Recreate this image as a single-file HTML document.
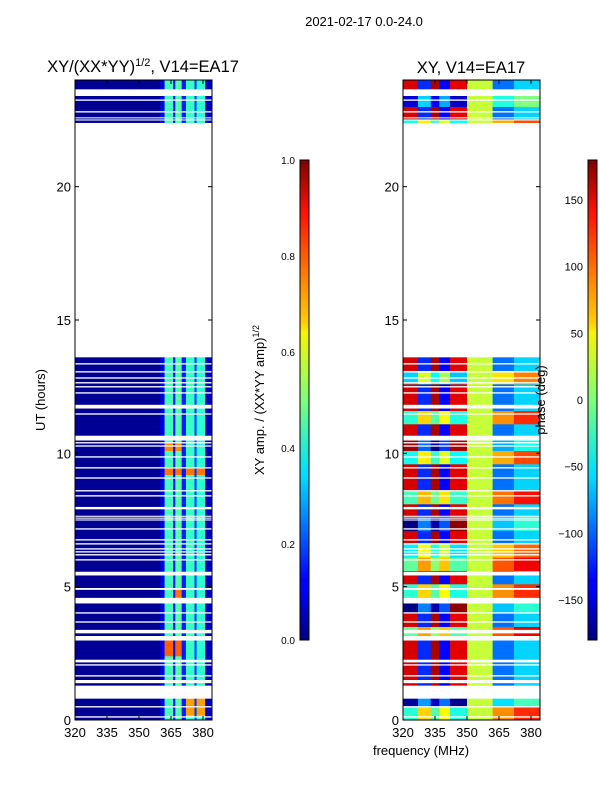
<!DOCTYPE html>
<html><head><meta charset="utf-8">
<style>
body{margin:0;background:#fff;}
svg text{font-family:"Liberation Sans",sans-serif;fill:#000;}
</style></head>
<body>
<svg id="fig" width="600" height="800" viewBox="0 0 600 800" xmlns="http://www.w3.org/2000/svg">
<defs>
<linearGradient id="jet" x1="0" y1="1" x2="0" y2="0">
<stop offset="0" stop-color="#00007f"/><stop offset="0.11" stop-color="#0000ff"/><stop offset="0.125" stop-color="#0000ff"/>
<stop offset="0.34" stop-color="#00dcff"/><stop offset="0.36" stop-color="#00e5f6"/><stop offset="0.5" stop-color="#7dff7a"/>
<stop offset="0.64" stop-color="#f6f500"/><stop offset="0.66" stop-color="#ffd000"/><stop offset="0.89" stop-color="#ff1300"/>
<stop offset="1" stop-color="#7f0000"/></linearGradient>
</defs>
<text x="364" y="26" font-size="13" text-anchor="middle">2021-02-17 0.0-24.0</text>
<text x="143" y="72" font-size="16.5" text-anchor="middle">XY/(XX*YY)<tspan font-size="11" dy="-6">1/2</tspan><tspan dy="6">, V14=EA17</tspan></text>
<text x="471" y="73" font-size="16.5" text-anchor="middle">XY, V14=EA17</text>
<g id="leftMap"></g>
<g id="rightMap"></g>
<g id="axes"></g>
<text transform="translate(45,400) rotate(-90)" font-size="13" text-anchor="middle">UT (hours)</text>
<text x="421" y="755" font-size="13" text-anchor="middle">frequency (MHz)</text>
<rect x="300" y="160" width="9" height="480" fill="url(#jet)" stroke="#000" stroke-width="1"/>
<rect x="588" y="160" width="9" height="480" fill="url(#jet)" stroke="#000" stroke-width="1"/>
<text transform="translate(264,400) rotate(-90)" font-size="13" text-anchor="middle">XY amp. / (XX*YY amp)<tspan font-size="9" dy="-5">1/2</tspan></text>
<text transform="translate(545,400) rotate(-90)" font-size="13" text-anchor="middle">phase (deg)</text>
</svg>
<script>
const hours=[0,5,10,15,20];
const freqTicks=[320,335,350,365,380];
const ampTicks=[0.0,0.2,0.4,0.6,0.8,1.0];
const phaseTicks=[-150,-100,-50,0,50,100,150];
const dataSegStart=[0.0,1.3,22.4];
const dataSegEnd=[0.8,13.6,24.0];
const gapStart=[0.09,0.47,1.38,1.63,2.04,2.16,2.98,3.25,3.65,3.99,4.37,4.88,5.42,5.98,6.17,6.28,6.39,6.58,6.73,7.14,7.48,7.55,7.62,7.9,8.38,8.57,9.05,9.43,9.84,10.25,10.37,10.48,11.45,11.68,12.24,12.47,12.62,12.8,13.03,13.33,22.48,22.56,22.78,23.22,23.4];
const gapEnd=[0.14,0.52,1.5,1.68,2.09,2.26,3.15,3.38,3.7,4.04,4.58,4.95,5.56,6.03,6.22,6.33,6.44,6.63,6.78,7.19,7.52,7.59,7.66,7.99,8.43,8.62,9.1,9.48,9.89,10.3,10.42,10.66,11.5,11.82,12.29,12.52,12.67,12.85,13.08,13.38,22.52,22.6,22.83,23.27,23.65];
// amplitude profile per frequency band
const ampBandF0=[320,360,362,366,367,370,372,376,377,381];
const ampBandF1=[360,362,366,367,370,372,376,377,381,384];
const ampBandVal=[0.02,0.1,0.44,0.14,0.46,0.15,0.43,0.18,0.42,0.06];
const hotStart=[9.15,10.05,2.35,4.6,0.15];
const hotEnd=[9.42,10.35,3.0,4.87,0.75];
const hotF0=[362,362,362,367,372];
const hotF1=[381,370,370,370,381];
const hotVal=[0.76,0.74,0.78,0.76,0.72];
// phase profile per frequency band (deg)
const phBandF0=[320,327,333,337,342,350,362,372];
const phBandF1=[327,333,337,342,350,362,372,384];
const phBandVal=[150,-120,165,-135,145,25,-95,-60];
// phase offset per half-hour (48 values)
const phOffset=[180,40,0,0,0,0,200,0,30,180,0,200,160,0,30,0,190,0,0,170,20,0,180,0,0,150,0,190,30,0,0,170,0,0,0,0,0,0,0,0,0,0,0,0,170,0,60,0];

const NS='http://www.w3.org/2000/svg';
const yH=h=>720-h*26.667;
const xL=f=>75+(f-320)*2.1333;
const xR=f=>403+(f-320)*2.1333;
function jet(v){v=Math.max(0,Math.min(1,v));
 const r=Math.max(0,Math.min(1,1.5-Math.abs(4*v-3))),g=Math.max(0,Math.min(1,1.5-Math.abs(4*v-2))),b=Math.max(0,Math.min(1,1.5-Math.abs(4*v-1)));
 return `rgb(${Math.round(r*255)},${Math.round(g*255)},${Math.round(b*255)})`;}
function rect(parent,x,y,w,h,fill,name){const r=document.createElementNS(NS,'rect');
 r.setAttribute('x',x);r.setAttribute('y',y);r.setAttribute('width',w);r.setAttribute('height',h);r.setAttribute('fill',fill);
 
 
 parent.appendChild(r);return r;}
const L=document.getElementById('leftMap'),R=document.getElementById('rightMap');
const dh=0.1;
for(let s=0;s<dataSegStart.length;s++){
 for(let h=dataSegStart[s];h<dataSegEnd[s]-1e-6;h+=dh){
  const h1=Math.min(h+dh,dataSegEnd[s]);
  const y=yH(h1),ht=yH(h)-yH(h1)+0.3;
  for(let b=0;b<ampBandF0.length;b++){
   let v=ampBandVal[b];
   for(let k=0;k<hotStart.length;k++){
    if(h>=hotStart[k]&&h<hotEnd[k]&&ampBandF0[b]>=hotF0[k]&&ampBandF1[b]<=hotF1[k]&&ampBandVal[b]>0.3)v=hotVal[k];}
   rect(L,xL(ampBandF0[b]),y,xL(ampBandF1[b])-xL(ampBandF0[b])+0.3,ht,jet(v),'amp-cell');
  }
  const off=phOffset[Math.min(47,Math.floor(h*2))];
  for(let b=0;b<phBandF0.length;b++){
   let p=phBandVal[b]+(b===5?0:off);
   p=((p+180)%360+360)%360-180;
   rect(R,xR(phBandF0[b]),y,xR(phBandF1[b])-xR(phBandF0[b])+0.3,ht,jet((p+180)/360),'phase-cell');
  }
 }
}
for(let i=0;i<gapStart.length;i++){
 rect(L,75,yH(gapEnd[i]),137,yH(gapStart[i])-yH(gapEnd[i]),'#fff','flag-gap');
 rect(R,403,yH(gapEnd[i]),137,yH(gapStart[i])-yH(gapEnd[i]),'#fff','flag-gap');
}
const A=document.getElementById('axes');
function line(x1,y1,x2,y2,name){const l=document.createElementNS(NS,'line');
 l.setAttribute('x1',x1);l.setAttribute('y1',y1);l.setAttribute('x2',x2);l.setAttribute('y2',y2);l.setAttribute('stroke','#000');
 
 
 A.appendChild(l);}
function txt(x,y,s,anchor,size,name){const t=document.createElementNS(NS,'text');
 t.setAttribute('x',x);t.setAttribute('y',y);t.setAttribute('font-size',size);t.setAttribute('text-anchor',anchor);t.textContent=s;
 
 
 A.appendChild(t);}
[75,403].forEach((x0,pi)=>{
 const fr=document.createElementNS(NS,'rect');
 fr.setAttribute('x',x0);fr.setAttribute('y',80);fr.setAttribute('width',137);fr.setAttribute('height',640);
 fr.setAttribute('fill','none');fr.setAttribute('stroke','#000');
 
 
 A.appendChild(fr);
 hours.forEach(h=>{const y=yH(h);line(x0,y,x0+4,y,'y-tick');line(x0+137,y,x0+133,y,'y-tick');
  txt(x0-4,y+5,String(h),'end',13,'y-tick-label');});
 freqTicks.forEach(f=>{const x=x0+(f-320)*2.1333;line(x,720,x,716,'x-tick');line(x,80,x,84,'x-tick');
  txt(x,737,String(f),'middle',13,'x-tick-label');});
});
ampTicks.forEach(v=>{const y=640-v*480;line(300,y,304,y,'colorbar-tick');line(309,y,305,y,'colorbar-tick');
 txt(295,y+4,v.toFixed(1),'end',10,'amplitude-colorbar-tick-label');});
phaseTicks.forEach(v=>{const y=400-v*480/360;line(588,y,592,y,'colorbar-tick');line(597,y,593,y,'colorbar-tick');
 txt(583,y+4,v<0?'\u2212'+Math.abs(v):String(v),'end',11,'phase-colorbar-tick-label');});
</script>
</body></html>
